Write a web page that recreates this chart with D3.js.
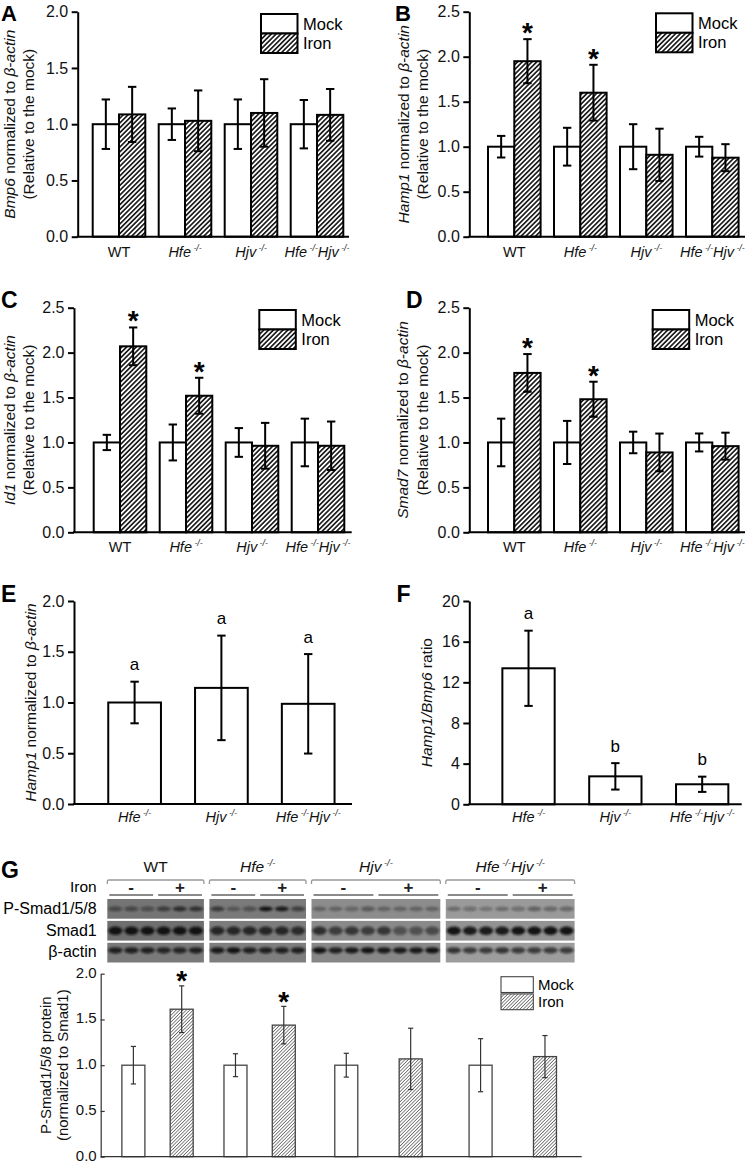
<!DOCTYPE html>
<html><head><meta charset="utf-8">
<script src="https://cdn.jsdelivr.net/npm/d3@7"></script>
<style>body{margin:0;background:#fff}svg{display:block}text{font-family:Arial,"Liberation Sans",Helvetica,sans-serif}</style>
</head><body><svg id="c" width="750" height="1162"></svg>
<script>
// ---------------- DATA ----------------
const genotypes = ["WT","Hfe","Hjv","HfeHjv"];
const genotypes3 = ["Hfe","Hjv","HfeHjv"];
const seriesNames = ["Mock","Iron"];
const ticks20 = [0,0.5,1.0,1.5,2.0];
const ticks25 = [0,0.5,1.0,1.5,2.0,2.5];
const ticksRatio = [0,4,8,12,16,20];

// A: Bmp6
const bmp6Mock = [1,1,1,1];
const bmp6MockErr = [0.22,0.14,0.22,0.215];
const bmp6Iron = [1.087,1.03,1.10,1.083];
const bmp6IronErr = [0.245,0.27,0.30,0.23];
const bmp6Stars = [false,false,false,false];
// B: Hamp1
const hamp1Mock = [1,1,1,1];
const hamp1MockErr = [0.12,0.21,0.25,0.11];
const hamp1Iron = [1.95,1.60,0.91,0.878];
const hamp1IronErr = [0.245,0.31,0.29,0.15];
const hamp1Stars = [true,true,false,false];
// C: Id1
const id1Mock = [1,1,1,1];
const id1MockErr = [0.085,0.2,0.16,0.265];
const id1Iron = [2.07,1.52,0.963,0.963];
const id1IronErr = [0.21,0.2,0.255,0.27];
const id1Stars = [true,true,false,false];
// D: Smad7
const smad7Mock = [1,1,1,1];
const smad7MockErr = [0.265,0.24,0.12,0.1];
const smad7Iron = [1.774,1.481,0.889,0.959];
const smad7IronErr = [0.21,0.195,0.21,0.15];
const smad7Stars = [true,true,false,false];
// E: Hamp1 in knockouts
const hampKO = [1.0,1.144,0.987];
const hampKOErr = [0.205,0.515,0.49];
const hampKOLetters = ["a","a","a"];
// F: Hamp1/Bmp6 ratio
const ratioKO = [13.38,2.75,1.97];
const ratioKOErr = [3.7,1.3,0.75];
const ratioKOLetters = ["a","b","b"];
// G: P-Smad1/5/8
const psmadMock = [1,1,1,1];
const psmadMockErr = [0.205,0.125,0.13,0.29];
const psmadIron = [1.612,1.438,1.069,1.094];
const psmadIronErr = [0.255,0.205,0.335,0.23];
const psmadStars = [true,true,false,false];
// Western blot
const blotRows = ["P-Smad1/5/8","Smad1","β-actin"];
const blotLanes = [6,6,8,8];
const blotIronSigns = ["-","+"];
const pSmadBands = [[0.5,0.5,0.45,0.6,0.75,0.7],[0.65,0.3,0.45,0.95,0.9,0.6],[0.3,0.3,0.35,0.45,0.3,0.3,0.3,0.3],[0.3,0.35,0.25,0.3,0.35,0.45,0.4,0.4]];
const smad1Bands = [[0.95,0.95,0.95,0.95,0.95,0.95],[0.8,0.8,0.8,0.8,0.8,0.75],[0.75,0.65,0.7,0.65,0.7,0.5,0.5,0.55],[0.95,0.9,0.9,0.9,0.95,0.95,0.95,0.95]];
const actinBands = [[0.85,0.85,0.85,0.8,0.8,0.85],[0.9,0.95,0.85,0.85,0.85,0.85],[0.95,0.85,0.9,0.95,0.9,0.9,0.9,0.95],[0.75,0.7,0.7,0.75,0.7,0.7,0.7,0.7]];

// ---------------- DRAWING ----------------
const svg = d3.select("#c");
svg.append("rect").attr("width",750).attr("height",1162).attr("fill","#fff");
const defs = svg.append("defs");
function hatch(id, sp, sw, color){
  const p = defs.append("pattern").attr("id",id).attr("patternUnits","userSpaceOnUse")
    .attr("width",sp).attr("height",sp).attr("patternTransform","rotate(45)");
  p.append("rect").attr("width",sp).attr("height",sp).attr("fill","#fff");
  p.append("line").attr("x1",sp/2).attr("y1",-1).attr("x2",sp/2).attr("y2",sp+1)
    .attr("stroke",color).attr("stroke-width",sw);
}
hatch("hatchBold",3.4,1.5,"#000");
hatch("hatchThin",2.4,0.7,"#555");
defs.append("filter").attr("id","blur").attr("x","-20%").attr("y","-50%").attr("width","140%").attr("height","200%")
  .append("feGaussianBlur").attr("stdDeviation",0.8);

const FONT = 16;

function genoLabel(sel, key, fs){
  const parts = {WT:[["WT",false,false]], Hfe:[["Hfe",true,true]], Hjv:[["Hjv",true,true]],
    HfeHjv:[["Hfe",true,true],["Hjv",true,true]]}[key];
  parts.forEach(([t,it,sup])=>{
    sel.append("tspan").attr("font-style",it?"italic":"normal").text(t);
    if(sup) sel.append("tspan").attr("font-style","italic").attr("font-size",fs*0.6)
      .attr("baseline-shift",(fs*0.42)+"px").text(" -/-");
  });
}
function richText(sel, parts){
  parts.forEach(([t,it])=>sel.append("tspan").attr("font-style",it?"italic":"normal").text(t));
}
function yTitle(x, y, parts, fs){
  const t = svg.append("text").attr("transform",`translate(${x},${y}) rotate(-90)`)
    .attr("text-anchor","middle").attr("font-size",fs).attr("fill","#111");
  richText(t, parts);
}
function panelLabel(t, x, y, fs){
  svg.append("text").attr("x",x).attr("y",y).attr("font-size",fs||23).attr("font-weight","bold").text(t);
}
function errBar(g, cx, yv, yhi, ylo, cap, color, sw){
  g.append("line").attr("x1",cx).attr("x2",cx).attr("y1",yhi).attr("y2",ylo).attr("stroke",color).attr("stroke-width",sw);
  [yhi,ylo].forEach(yy=>g.append("line").attr("x1",cx-cap).attr("x2",cx+cap).attr("y1",yy).attr("y2",yy)
    .attr("stroke",color).attr("stroke-width",sw));
}
function styleAxis(ax, sw, color, fs){
  ax.select(".domain").attr("stroke",color).attr("stroke-width",sw);
  ax.selectAll(".tick line").attr("stroke",color).attr("stroke-width",sw);
  ax.selectAll(".tick text").attr("font-size",fs).attr("fill","#111")
    .attr("font-family",'Arial,"Liberation Sans",sans-serif');
}

function grouped(o){
  const g = svg.append("g");
  const y = d3.scaleLinear().domain([0,o.max]).range([o.y0,o.yTop]);
  const x = d3.scalePoint().domain(genotypes).range(o.xr).padding(0.5);
  const bw = o.barW;
  genotypes.forEach((k,i)=>{
    const cx = x(k);
    const series = [[o.mock[i],o.mockErr[i],"#fff",cx-bw],[o.iron[i],o.ironErr[i],"url(#hatchBold)",cx]];
    series.forEach(([v,e,fill,bx])=>{
      g.append("rect").attr("x",bx).attr("y",y(v)).attr("width",bw).attr("height",o.y0-y(v))
        .attr("fill",fill).attr("stroke","#000").attr("stroke-width",2);
    });
    series.forEach(([v,e,fill,bx])=>errBar(g,bx+bw/2,y(v),y(v+e),y(v-e),4.2,"#000",2));
    if(o.stars[i]){
      g.append("text").attr("x",cx+bw/2).attr("y",y(o.iron[i]+o.ironErr[i])+3)
        .attr("text-anchor","middle").attr("font-size",28).attr("font-weight","bold").text("*");
    }
    const t = g.append("text").attr("x",cx).attr("y",o.y0+20).attr("text-anchor","middle")
      .attr("font-size",14.5).attr("fill","#111");
    genoLabel(t,k,14.5);
  });
  const ax = g.append("g").attr("transform",`translate(${o.axisX},0)`)
    .call(d3.axisLeft(y).tickValues(o.ticks).tickFormat(d3.format(".1f")).tickSize(6).tickSizeOuter(0).tickPadding(3.5));
  styleAxis(ax,2,"#000",FONT);
  g.append("line").attr("x1",o.axisX-1).attr("x2",o.axisEnd).attr("y1",o.y0).attr("y2",o.y0)
    .attr("stroke","#000").attr("stroke-width",2);
  // legend
  const lx = o.legend[0], ly = o.legend[1];
  seriesNames.forEach((s,j)=>{
    const yy = ly + j*19.5;
    g.append("rect").attr("x",lx).attr("y",yy).attr("width",36.5).attr("height",19.5)
      .attr("fill",j? "url(#hatchBold)":"#fff").attr("stroke","#000").attr("stroke-width",2);
    g.append("text").attr("x",lx+42).attr("y",yy+9.75).attr("dy","0.35em").attr("font-size",16.5).text(s);
  });
  yTitle(o.titleX[0], (o.y0+o.yTop)/2, o.title1, 15.5);
  yTitle(o.titleX[1], (o.y0+o.yTop)/2, [["(Relative to the mock)",false]], 15.5);
  panelLabel(o.label, o.labelPos[0], o.labelPos[1], o.labelFs);
}

function single(o){
  const g = svg.append("g");
  const y = d3.scaleLinear().domain([0,o.max]).range([o.y0,o.yTop]);
  const x = d3.scalePoint().domain(genotypes3).range(o.xr).padding(0.5);
  const bw = o.barW;
  genotypes3.forEach((k,i)=>{
    const cx = x(k), v = o.vals[i], e = o.errs[i];
    g.append("rect").attr("x",cx-bw/2).attr("y",y(v)).attr("width",bw).attr("height",o.y0-y(v))
      .attr("fill","#fff").attr("stroke","#000").attr("stroke-width",2);
    errBar(g,cx,y(v),y(v+e),y(v-e),4.2,"#000",2);
    g.append("text").attr("x",cx).attr("y",y(v+e)-11.5).attr("text-anchor","middle").attr("font-size",17).text(o.letters[i]);
    const t = g.append("text").attr("x",cx).attr("y",o.y0+18).attr("text-anchor","middle")
      .attr("font-size",14.5).attr("fill","#111");
    genoLabel(t,k,14.5);
  });
  const ax = g.append("g").attr("transform",`translate(${o.axisX},0)`)
    .call(d3.axisLeft(y).tickValues(o.ticks).tickFormat(d3.format(o.fmt)).tickSize(6).tickSizeOuter(0).tickPadding(3.5));
  styleAxis(ax,2,"#000",FONT);
  g.append("line").attr("x1",o.axisX-1).attr("x2",o.axisEnd).attr("y1",o.y0).attr("y2",o.y0)
    .attr("stroke","#000").attr("stroke-width",2);
  yTitle(o.titleX,(o.y0+o.yTop)/2,o.title,15.5);
  panelLabel(o.label,o.labelPos[0],o.labelPos[1]);
}

const tBeta = ["β-actin",true];
grouped({label:"A",labelPos:[1,20.5],labelFs:22,axisX:77.7,axisEnd:349,xr:[86,350],y0:236.7,yTop:11.7,max:2.0,ticks:ticks20,barW:26.3,
  mock:bmp6Mock,mockErr:bmp6MockErr,iron:bmp6Iron,ironErr:bmp6IronErr,stars:bmp6Stars,
  title1:[["Bmp6",true],[" normalized to ",false],tBeta],titleX:[15,33.5],legend:[261,14]});
grouped({label:"B",labelPos:[395,20.5],labelFs:22,axisX:469.3,axisEnd:745,xr:[481.3,745.3],y0:236.7,yTop:11.7,max:2.5,ticks:ticks25,barW:26.3,
  mock:hamp1Mock,mockErr:hamp1MockErr,iron:hamp1Iron,ironErr:hamp1IronErr,stars:hamp1Stars,
  title1:[["Hamp1",true],[" normalized to ",false],tBeta],titleX:[408.5,428],legend:[656,13.3]});
grouped({label:"C",labelPos:[1,308],axisX:74,axisEnd:351.7,xr:[87,351],y0:532.3,yTop:307.7,max:2.5,ticks:ticks25,barW:26.3,
  mock:id1Mock,mockErr:id1MockErr,iron:id1Iron,ironErr:id1IronErr,stars:id1Stars,
  title1:[["Id1",true],[" normalized to ",false],tBeta],titleX:[15,33.5],legend:[259.3,310]});
grouped({label:"D",labelPos:[406,308],axisX:469.3,axisEnd:745,xr:[481.3,745.3],y0:532.3,yTop:307.7,max:2.5,ticks:ticks25,barW:26.3,
  mock:smad7Mock,mockErr:smad7MockErr,iron:smad7Iron,ironErr:smad7IronErr,stars:smad7Stars,
  title1:[["Smad7",true],[" normalized to ",false],tBeta],titleX:[408,427.5],legend:[652.7,310]});
single({label:"E",labelPos:[1,601.7],axisX:74,axisEnd:352,xr:[91.2,351.6],y0:804,yTop:601,max:2,ticks:ticks20,fmt:".1f",barW:52.7,
  vals:hampKO,errs:hampKOErr,letters:hampKOLetters,title:[["Hamp1",true],[" normalized to ",false],tBeta],titleX:36});
single({label:"F",labelPos:[396.5,601.7],axisX:469.3,axisEnd:741.7,xr:[485.1,745.6],y0:804.3,yTop:601,max:20,ticks:ticksRatio,fmt:"d",barW:52.3,
  vals:ratioKO,errs:ratioKOErr,letters:ratioKOLetters,title:[["Hamp1/Bmp6",true],[" ratio",false]],titleX:431.5});

// ---------- G: blot ----------
panelLabel("G",1,878);
const totalLanes = d3.sum(blotLanes);
const laneW = 16.1, laneGap = 5.5, blotLeft = 107.3;
const lane = d3.scaleLinear().domain([0,totalLanes]).range([blotLeft, blotLeft+totalLanes*laneW]);
let cum = 0;
const blotGroups = blotLanes.map((n,i)=>{ const s = lane(cum)+i*laneGap; cum += n; return {key:genotypes[i],n,s,e:s+n*laneW}; });
const rowY = d3.scaleBand().domain(blotRows).range([899,962.5]).paddingInner(0.1);
const blotShade = [["#747474","#6f6f6f","#7a7a7a"],["#7a7a7a","#7c7c7c","#7e7e7e"],["#8c8c8c","#8a8a8a","#878787"],["#9a9a9a","#939393","#9d9d9d"]];
const bandRy = [2.3,4.2,3.2], bandDy = [0,0,-2.3];
const bandData = [pSmadBands, smad1Bands, actinBands];
const gb = svg.append("g");
blotGroups.forEach((bg,gi)=>{
  blotRows.forEach((r,ri)=>{
    const y0 = rowY(r), h = rowY.bandwidth();
    gb.append("rect").attr("x",bg.s).attr("y",y0).attr("width",bg.e-bg.s).attr("height",h).attr("fill",blotShade[gi][ri]);
    const bands = bandData[ri][gi];
    const bgG = gb.append("g").attr("filter","url(#blur)");
    bands.forEach((v,li)=>{
      bgG.append("ellipse").attr("cx",bg.s+(li+0.5)*laneW).attr("cy",y0+h/2+bandDy[ri])
        .attr("rx",laneW*0.44).attr("ry",bandRy[ri]).attr("fill","#111").attr("opacity",v);
    });
  });
  // bracket
  gb.append("path").attr("d",`M${bg.s},884 L${bg.s},881.5 Q${bg.s},880 ${bg.s+1.5},880 L${bg.e-1.5},880 Q${bg.e},880 ${bg.e},881.5 L${bg.e},884`)
    .attr("fill","none").attr("stroke","#999").attr("stroke-width",1.3);
  const mid = (bg.s+bg.e)/2;
  blotIronSigns.forEach((sg,j)=>{
    const a = j? mid+2.5 : bg.s+2, b = j? bg.e-2 : mid-2.5;
    gb.append("line").attr("x1",a).attr("x2",b).attr("y1",895).attr("y2",895).attr("stroke","#8a8a8a").attr("stroke-width",1.8);
    gb.append("text").attr("x",(a+b)/2).attr("y",886.7).attr("dy","0.35em").attr("text-anchor","middle")
      .attr("font-size",17).attr("font-weight","bold").attr("fill","#222").text(sg);
  });
  const t = gb.append("text").attr("x",mid).attr("y",872).attr("text-anchor","middle").attr("font-size",15.5).attr("fill","#111");
  genoLabel(t,bg.key,15.5);
});
gb.append("text").attr("x",96.7).attr("y",886.7).attr("dy","0.35em").attr("text-anchor","end").attr("font-size",15.5).text("Iron");
blotRows.forEach(r=>gb.append("text").attr("x",96.7).attr("y",rowY(r)+rowY.bandwidth()/2+(r==="β-actin"?-1:0)).attr("dy","0.35em")
  .attr("text-anchor","end").attr("font-size",16).text(r));

// ---------- G: bar chart ----------
(function(){
  const g = svg.append("g");
  const axisX = 100.7, y0 = 1156.7, yTop = 973.7, axisEnd = 581.7;
  const y = d3.scaleLinear().domain([0,2]).range([y0,yTop]);
  const bw = 23;
  blotGroups.forEach((bg,i)=>{
    const w = bg.e-bg.s;
    const series = [[psmadMock[i],psmadMockErr[i],"#fff",bg.s+w*0.27],[psmadIron[i],psmadIronErr[i],"url(#hatchThin)",bg.s+w*0.77]];
    series.forEach(([v,e,fill,cx])=>{
      g.append("rect").attr("x",cx-bw/2).attr("y",y(v)).attr("width",bw).attr("height",y0-y(v))
        .attr("fill",fill).attr("stroke","#444").attr("stroke-width",1.3);
    });
    series.forEach(([v,e,fill,cx])=>errBar(g,cx,y(v),y(v+e),y(v-e),2.6,"#333",1.2));
    if(psmadStars[i]){
      const cx = series[1][3];
      g.append("text").attr("x",cx).attr("y",y(psmadIron[i]+psmadIronErr[i])+4.5).attr("text-anchor","middle")
        .attr("font-size",28).attr("font-weight","bold").text("*");
    }
  });
  const ax = g.append("g").attr("transform",`translate(${axisX},0)`)
    .call(d3.axisLeft(y).tickValues(ticks20).tickFormat(d3.format(".1f")).tickSizeInner(-4).tickSizeOuter(0).tickPadding(4));
  styleAxis(ax,1.2,"#333",15);
  ax.selectAll(".tick text").attr("dy","0.22em");
  g.append("line").attr("x1",axisX).attr("x2",axisEnd).attr("y1",y0).attr("y2",y0).attr("stroke","#333").attr("stroke-width",1.3);
  seriesNames.forEach((s,j)=>{
    const yy = 976.7 + j*17.2;
    g.append("rect").attr("x",501).attr("y",yy).attr("width",32.3).attr("height",15.8)
      .attr("fill",j?"url(#hatchThin)":"#fff").attr("stroke","#444").attr("stroke-width",1.1);
    g.append("text").attr("x",538).attr("y",yy+7.9).attr("dy","0.35em").attr("font-size",15).text(s);
  });
  yTitle(50.5,(y0+yTop)/2,[["P-Smad1/5/8 protein",false]],15);
  yTitle(67.5,(y0+yTop)/2,[["(normalized to Smad1)",false]],15);
})();
</script></body></html>
